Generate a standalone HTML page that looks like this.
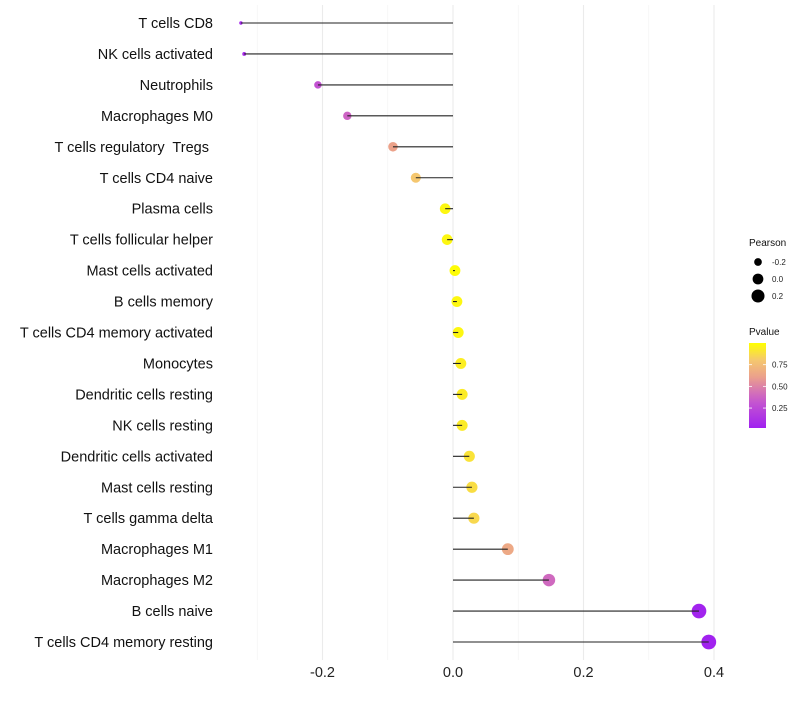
<!DOCTYPE html>
<html><head><meta charset="utf-8"><style>
body{margin:0;background:#fff;font-family:"Liberation Sans",sans-serif}
svg text{font-family:"Liberation Sans",sans-serif;white-space:pre}
</style></head><body>
<svg id="chart" width="800" height="700" xmlns="http://www.w3.org/2000/svg"></svg>
<script>
const categories=["T cells CD8","NK cells activated","Neutrophils","Macrophages M0","T cells regulatory  Tregs ","T cells CD4 naive","Plasma cells","T cells follicular helper","Mast cells activated","B cells memory","T cells CD4 memory activated","Monocytes","Dendritic cells resting","NK cells resting","Dendritic cells activated","Mast cells resting","T cells gamma delta","Macrophages M1","Macrophages M2","B cells naive","T cells CD4 memory resting"];
const pearson=[-0.325,-0.32,-0.207,-0.162,-0.092,-0.057,-0.012,-0.009,0.003,0.006,0.008,0.012,0.014,0.014,0.025,0.029,0.032,0.084,0.147,0.377,0.392];
const pvalues=[0.06,0.08,0.3,0.38,0.62,0.8,0.97,0.97,0.99,0.97,0.97,0.94,0.93,0.93,0.9,0.88,0.86,0.65,0.4,0.04,0.03];
const xTicks=[-0.2,0.0,0.2,0.4];
const xMinor=[-0.3,-0.1,0.1,0.3];
const sizeLegend=[-0.2,0.0,0.2];
const colorTicks=[0.25,0.5,0.75];

const NS="http://www.w3.org/2000/svg";
const svg=document.getElementById('chart');
const x=v=>453+v*652.5;
const y=i=>23+i*30.95;
const r=v=>1.2+6.2*Math.sqrt(Math.max(0,(v+0.33))/0.72);
const stops=[[0,[160,32,240]],[0.33,[200,90,205]],[0.6,[235,160,140]],[0.8,[245,200,110]],[1,[255,255,0]]];
function col(p){const t=Math.max(0,Math.min(1,(p-0.02)/0.98));
 for(let k=1;k<stops.length;k++){if(t<=stops[k][0]){const [t0,a]=stops[k-1],[t1,b]=stops[k];const s=(t-t0)/(t1-t0);
  return `rgb(${a.map((v,j)=>Math.round(v+(b[j]-v)*s))})`;}}
 return 'rgb(255,255,0)';}
function el(tag,at,txt){const e=document.createElementNS(NS,tag);for(const k in at)e.setAttribute(k,at[k]);if(txt!==undefined)e.textContent=txt;svg.appendChild(e);return e;}

xMinor.forEach(v=>{const g=el('line',{x1:x(v),x2:x(v),y1:5,y2:660,stroke:'#f2f2f2','stroke-width':0.6});

});
xTicks.forEach(v=>{const g=el('line',{x1:x(v),x2:x(v),y1:5,y2:660,stroke:'#ebebeb','stroke-width':1.1});


const t=el('text',{x:x(v),y:677,'text-anchor':'middle','font-size':14.5,fill:'#222'},v.toFixed(1));

});

categories.forEach((c,i)=>{
 const t=el('text',{x:213,y:y(i)+5,'text-anchor':'end','font-size':14.5,fill:'#111'},c);
 
 
 const d=el('circle',{cx:x(pearson[i]),cy:y(i),r:r(pearson[i]),fill:col(pvalues[i])});
 
 
 const l=el('line',{x1:x(0),x2:x(pearson[i]),y1:y(i),y2:y(i),stroke:'#222','stroke-width':1.1});
 
 
});

let t0=el('text',{x:749,y:246,'font-size':10,fill:'#111'},'Pearson');


sizeLegend.forEach((v,i)=>{const cy=262+i*17;
 const c=el('circle',{cx:758,cy:cy,r:r(v),fill:'#000'});
 
 
 const t=el('text',{x:772,y:cy+3,'font-size':8,fill:'#222'},v.toFixed(1));
 
 });

let t1=el('text',{x:749,y:335,'font-size':10,fill:'#111'},'Pvalue');


const defs=el('defs',{});
const g=document.createElementNS(NS,'linearGradient');g.setAttribute('id','gr');g.setAttribute('x1',0);g.setAttribute('y1',1);g.setAttribute('x2',0);g.setAttribute('y2',0);
[0,0.1,0.2,0.3,0.4,0.5,0.6,0.7,0.8,0.9,1].forEach(s=>{const st=document.createElementNS(NS,'stop');st.setAttribute('offset',s);st.setAttribute('stop-color',col(0.02+s*0.98));g.appendChild(st);});
defs.appendChild(g);
const cbTop=343,cbBot=428,pv=p=>cbBot-(p-0.02)/0.98*(cbBot-cbTop);
const bar=el('rect',{x:749,y:cbTop,width:17,height:cbBot-cbTop,fill:'url(#gr)'});


colorTicks.forEach(p=>{
 el('line',{x1:749,x2:752,y1:pv(p),y2:pv(p),stroke:'#fff','stroke-width':0.8});
 el('line',{x1:763,x2:766,y1:pv(p),y2:pv(p),stroke:'#fff','stroke-width':0.8});
 const t=el('text',{x:772,y:pv(p)+3,'font-size':8,fill:'#222'},p.toFixed(2));
 
 });
</script>
</body></html>
